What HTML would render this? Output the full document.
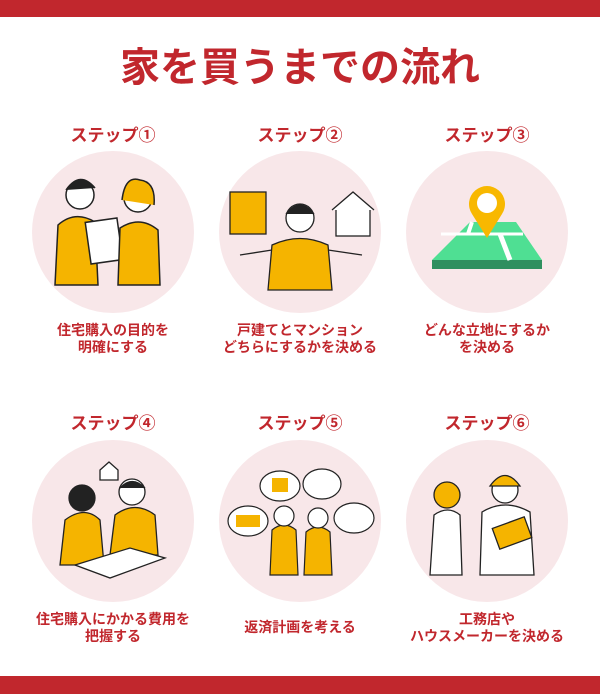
<!DOCTYPE html>
<html><head><meta charset="utf-8"><style>
html,body{margin:0;padding:0;width:600px;height:694px;background:#fff;overflow:hidden}
svg{display:block}
text{font-family:"Liberation Sans","Noto Sans CJK JP",sans-serif;font-weight:bold;fill:#c1272d;text-anchor:middle}
</style></head><body>
<svg width="600" height="694" viewBox="0 0 600 694">
<rect x="0" y="0" width="600" height="17" fill="#c1272d"/>
<rect x="0" y="676" width="600" height="18" fill="#c1272d"/>
<text x="300" y="81" font-size="40" font-weight="900">家を買うまでの流れ</text>

<g font-size="17">
<text x="113" y="141">ステップ①</text>
<text x="300" y="141">ステップ②</text>
<text x="487" y="141">ステップ③</text>
<text x="113" y="429">ステップ④</text>
<text x="300" y="429">ステップ⑤</text>
<text x="487" y="429">ステップ⑥</text>
</g>

<g fill="#f8e7e9">
<circle cx="113" cy="232" r="81"/>
<circle cx="300" cy="232" r="81"/>
<circle cx="487" cy="232" r="81"/>
<circle cx="113" cy="521" r="81"/>
<circle cx="300" cy="521" r="81"/>
<circle cx="487" cy="521" r="81"/>
</g>

<g stroke="#222" stroke-width="1.5">
<path d="M55 285 L58 225 Q75 210 95 222 L98 285Z" fill="#f5b400"/>
<circle cx="80" cy="195" r="14" fill="#fff"/>
<path d="M66 190 Q80 170 95 188" fill="#222"/>
<rect x="88" y="220" width="32" height="42" fill="#fff" transform="rotate(-8 104 241)"/>
<path d="M118 285 L120 228 Q140 215 158 230 L160 285Z" fill="#f5b400"/>
<circle cx="138" cy="198" r="14" fill="#fff"/>
<path d="M122 200 Q125 175 140 180 Q156 182 154 205" fill="#f5b400"/>
</g>
<g stroke="#222" stroke-width="1.3">
<rect x="230" y="192" width="36" height="42" fill="#f5b400"/>
<rect x="336" y="208" width="34" height="28" fill="#fff"/>
<path d="M332 210 L353 192 L374 210" fill="#fff"/>
<path d="M268 290 L272 245 Q300 232 328 245 L332 290Z" fill="#f5b400"/>
<circle cx="300" cy="218" r="14" fill="#fff"/>
<path d="M286 214 Q300 196 314 214" fill="#222"/>
<path d="M272 250 L240 255" fill="none"/><path d="M328 250 L362 255" fill="none"/>
</g>
<path d="M470 222 L516 222 L542 260 L432 260Z" fill="#4fdf93"/>
<rect x="432" y="260" width="110" height="9" fill="#2f8f5f"/>
<path d="M441 234 L523 234" stroke="#fff" stroke-width="3"/>
<path d="M500 234 L510 260" stroke="#fff" stroke-width="5"/>
<path d="M472 222 L468 234" stroke="#fff" stroke-width="4"/>
<path d="M487 238 L472 214 A18 18 0 1 1 502 214Z" fill="#f8b800"/>
<circle cx="487" cy="203" r="10" fill="#fff"/>
<g stroke="#222" stroke-width="1.3">
<path d="M60 565 L65 520 Q85 505 100 520 L104 565Z" fill="#f5b400"/>
<circle cx="82" cy="498" r="13" fill="#222"/>
<path d="M110 555 L115 515 Q135 500 155 515 L158 555Z" fill="#f5b400"/>
<circle cx="132" cy="492" r="13" fill="#fff"/>
<path d="M120 488 Q132 475 145 488" fill="#222"/>
<path d="M75 565 L130 548 L165 558 L110 578Z" fill="#fff"/>
<path d="M100 470 L109 462 L118 470 L118 480 L100 480Z" fill="#fff"/>
</g>
<g stroke="#222" stroke-width="1.2" fill="#fff">
<ellipse cx="280" cy="486" rx="20" ry="15"/><ellipse cx="322" cy="484" rx="19" ry="15"/>
<ellipse cx="248" cy="521" rx="20" ry="15"/><ellipse cx="354" cy="518" rx="20" ry="15"/>
<path d="M270 575 L272 530 Q284 520 296 530 L298 575Z" fill="#f5b400"/>
<circle cx="284" cy="516" r="10"/>
<path d="M304 575 L306 532 Q318 522 330 532 L332 575Z" fill="#f5b400"/>
<circle cx="318" cy="518" r="10"/>
</g>
<rect x="236" y="515" width="24" height="12" fill="#f5b400"/>
<rect x="272" y="478" width="16" height="14" fill="#f5b400"/>
<g stroke="#222" stroke-width="1.3">
<path d="M430 575 L434 515 Q448 505 460 515 L462 575Z" fill="#fff"/>
<circle cx="447" cy="495" r="13" fill="#f5b400"/>
<path d="M480 575 L482 512 Q505 498 530 512 L534 575Z" fill="#fff"/>
<circle cx="505" cy="490" r="13" fill="#fff"/>
<path d="M490 486 Q505 465 520 486Z" fill="#f5b400"/>
<rect x="495" y="522" width="34" height="22" fill="#f5b400" transform="rotate(-20 512 533)"/>
</g>

<g font-size="14">
<text x="113" y="335">住宅購入の目的を</text>
<text x="113" y="352">明確にする</text>
<text x="300" y="335">戸建てとマンション</text>
<text x="300" y="352">どちらにするかを決める</text>
<text x="487" y="335">どんな立地にするか</text>
<text x="487" y="352">を決める</text>
<text x="113" y="624">住宅購入にかかる費用を</text>
<text x="113" y="641">把握する</text>
<text x="300" y="632">返済計画を考える</text>
<text x="487" y="624">工務店や</text>
<text x="487" y="641">ハウスメーカーを決める</text>
</g>
</svg>
</body></html>
